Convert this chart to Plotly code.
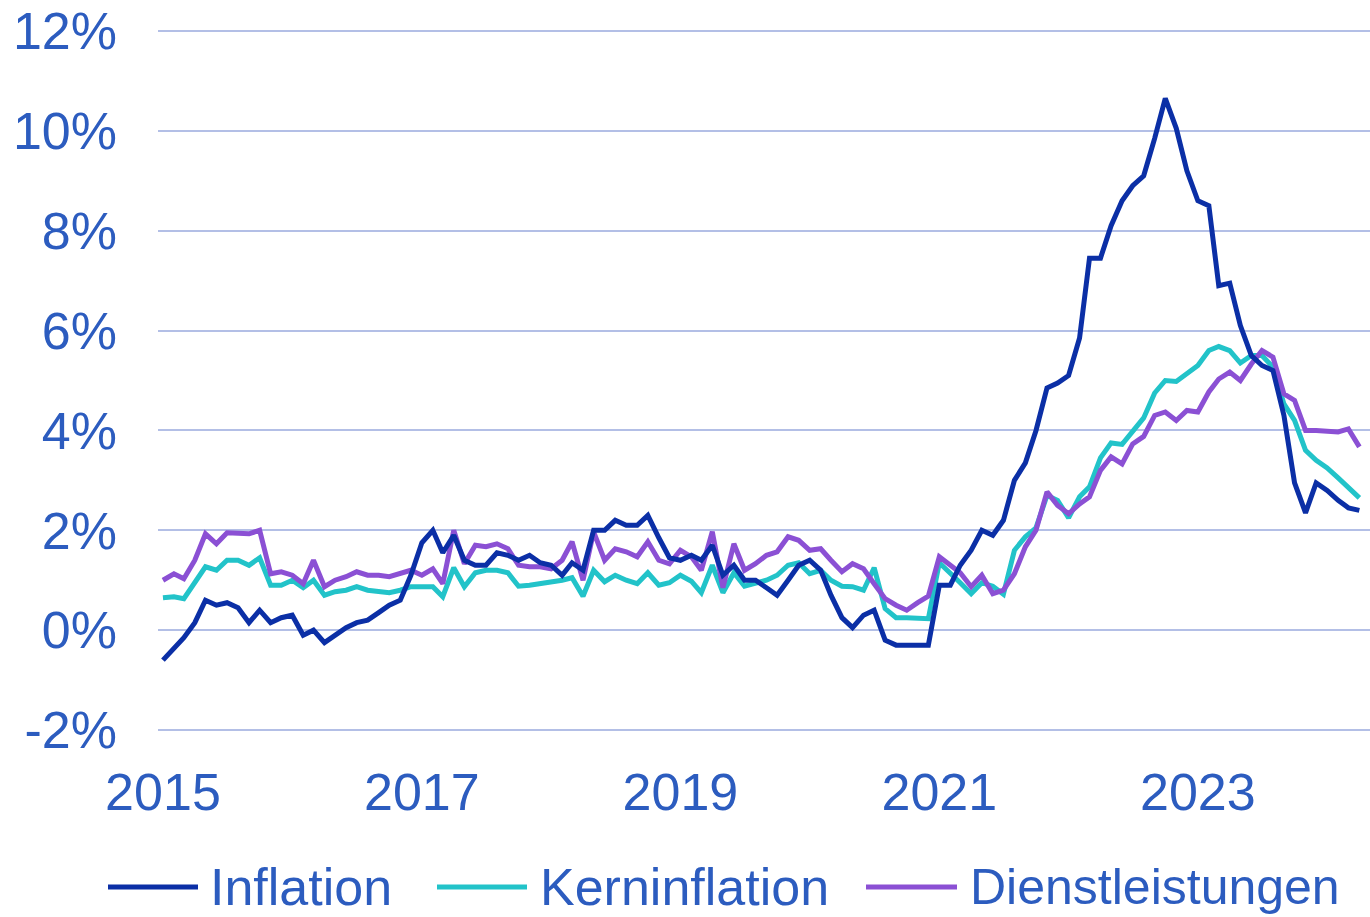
import pandas as pd
import plotly.graph_objects as go

months = pd.date_range("2015-01-01", periods=112, freq="MS")

inflation = [
    -0.6, -0.35, -0.15, 0.15, 0.6, 0.5, 0.55, 0.45, 0.15, 0.4, 0.15, 0.25,
    0.3, -0.1, 0.0, -0.25, -0.1, 0.05, 0.15, 0.2, 0.35, 0.5, 0.6, 1.1,
    1.75, 2.0, 1.55, 1.9, 1.4, 1.3, 1.3, 1.55, 1.5, 1.4, 1.5, 1.35,
    1.3, 1.1, 1.35, 1.2, 2.0, 2.0, 2.2, 2.1, 2.1, 2.3, 1.85, 1.45,
    1.4, 1.5, 1.4, 1.7, 1.1, 1.3, 1.0, 1.0, 0.85, 0.7, 1.0, 1.3,
    1.4, 1.2, 0.7, 0.25, 0.05, 0.3, 0.4, -0.2, -0.3, -0.3, -0.3, -0.3,
    0.9, 0.9, 1.3, 1.6, 2.0, 1.9, 2.2, 3.0, 3.35, 4.0, 4.85, 4.95,
    5.1, 5.85, 7.45, 7.45, 8.1, 8.6, 8.9, 9.1, 9.85, 10.65, 10.05, 9.2,
    8.6, 8.5, 6.9, 6.95, 6.1, 5.5, 5.3, 5.2, 4.3, 2.95, 2.35, 2.95,
    2.8, 2.6, 2.45, 2.4,
]

kerninflation = [
    0.65, 0.67, 0.63, 0.97, 1.27, 1.2, 1.4, 1.4, 1.3, 1.45, 0.9, 0.9,
    1.0, 0.85, 1.0, 0.7, 0.77, 0.8, 0.87, 0.8, 0.77, 0.75, 0.8, 0.87,
    0.87, 0.87, 0.67, 1.25, 0.87, 1.15, 1.2, 1.2, 1.15, 0.88, 0.9, 0.93,
    0.97, 1.0, 1.05, 0.68, 1.2, 0.97, 1.1, 1.0, 0.93, 1.15, 0.9, 0.95,
    1.1, 0.98, 0.75, 1.3, 0.75, 1.15, 0.88, 0.93, 1.0, 1.1, 1.3, 1.35,
    1.13, 1.2, 1.0, 0.88, 0.87, 0.8, 1.25, 0.43, 0.25, 0.25, 0.25, 0.23,
    1.35, 1.15, 0.95, 0.73, 0.95, 0.88, 0.72, 1.6, 1.87, 2.05, 2.7, 2.6,
    2.25, 2.67, 2.87, 3.45, 3.75, 3.72, 4.0, 4.25, 4.75, 5.0, 4.98, 5.15,
    5.3, 5.6, 5.68, 5.6, 5.35, 5.5, 5.5, 5.27, 4.53, 4.2, 3.6, 3.4,
    3.25, 3.05, 2.85, 2.65,
]

dienstleistungen = [
    1.0, 1.13, 1.03, 1.4, 1.93, 1.73, 1.95, 1.93, 1.93, 2.0, 1.13, 1.17,
    1.1, 0.93, 1.4, 0.87, 1.0, 1.07, 1.17, 1.1, 1.1, 1.07, 1.13, 1.2,
    1.1, 1.23, 0.93, 2.0, 1.33, 1.7, 1.67, 1.73, 1.63, 1.3, 1.27, 1.27,
    1.23, 1.4, 1.77, 1.0, 1.97, 1.4, 1.63, 1.57, 1.47, 1.77, 1.4, 1.33,
    1.6, 1.47, 1.2, 1.97, 0.85, 1.73, 1.2, 1.33, 1.5, 1.57, 1.87, 1.8,
    1.6, 1.63, 1.4, 1.17, 1.33, 1.23, 0.93, 0.63, 0.5, 0.4, 0.55, 0.68,
    1.47, 1.3, 1.15, 0.87, 1.1, 0.73, 0.8, 1.13, 1.67, 2.0, 2.77, 2.5,
    2.33, 2.53, 2.67, 3.2, 3.47, 3.33, 3.73, 3.88, 4.3, 4.37, 4.2, 4.4,
    4.37, 4.77, 5.03, 5.17, 5.0, 5.33, 5.6, 5.47, 4.73, 4.6, 4.0, 4.0,
    3.99, 3.97, 4.03, 3.67,
]

series_names = ["Inflation", "Kerninflation", "Dienstleistungen"]
series_colors = ["#0b2fa6", "#22c3c9", "#8b50d4"]

y_ticks = [-2, 0, 2, 4, 6, 8, 10, 12]
y_ticktext = [f"{v}%" for v in y_ticks]
x_ticks = ["2015-01-01", "2017-01-01", "2019-01-01", "2021-01-01", "2023-01-01"]
x_ticktext = ["2015", "2017", "2019", "2021", "2023"]

TEXT = "#2c5cbf"
GRID = "#b3bfe6"
FONT = "Liberation Sans, Arial, sans-serif"
FS = 52

fig = go.Figure()
for name, vals, col in [
    ("Kerninflation", kerninflation, series_colors[1]),
    ("Dienstleistungen", dienstleistungen, series_colors[2]),
    ("Inflation", inflation, series_colors[0]),
]:
    fig.add_trace(go.Scatter(x=months, y=vals, mode="lines", name=name,
                             line=dict(color=col, width=5), showlegend=False))

# the page body margin is removed below, so figure coordinates equal screen pixels
W, H = 1370, 917
L, R, T, B = 158, 0, 11, 160
pw, ph = W - L - R, H - T - B

def px(x):
    return (x - L) / pw

def py(y):
    return (H - B - y) / ph

legend_y = 887
legend_items = [(108, 198, 208), (437, 527, 538), (866, 957, 968)]
legend_sizes = [FS, FS, 50]
for (x0, x1, xt), name, col, fs in zip(legend_items, series_names, series_colors, legend_sizes):
    fig.add_shape(type="line", xref="paper", yref="paper",
                  x0=px(x0), x1=px(x1), y0=py(legend_y), y1=py(legend_y),
                  line=dict(color=col, width=5))
    fig.add_annotation(xref="paper", yref="paper", x=px(xt), y=py(legend_y),
                       text=name, showarrow=False, xanchor="left", yanchor="middle",
                       font=dict(family=FONT, size=fs, color=TEXT))

fig.update_layout(
    width=W, height=H,
    margin=dict(l=L, r=R, t=T, b=B, pad=0, autoexpand=False),
    paper_bgcolor="white", plot_bgcolor="white",
    font=dict(family=FONT, size=FS, color=TEXT),
    showlegend=False,
)
fig.update_xaxes(
    type="date", range=["2014-12-18", "2024-05-01"], automargin=False,
    tickvals=x_ticks, ticktext=x_ticktext, showgrid=False, zeroline=False,
    showline=False, ticks="", ticklabelstandoff=0,
    tickfont=dict(family=FONT, size=FS, color=TEXT),
)
fig.update_yaxes(
    range=[-2.54, 12.4], tickvals=y_ticks, ticktext=y_ticktext, automargin=False,
    showgrid=True, gridcolor=GRID, gridwidth=2, zeroline=False, showline=False,
    ticks="", ticklabelstandoff=40, ticklabeloverflow="allow",
    tickfont=dict(family=FONT, size=FS, color=TEXT),
)

fig.write_html(
    "out.html",
    config={"displayModeBar": False},
    post_script="document.body.style.margin='0';document.body.style.overflow='hidden';",
)
